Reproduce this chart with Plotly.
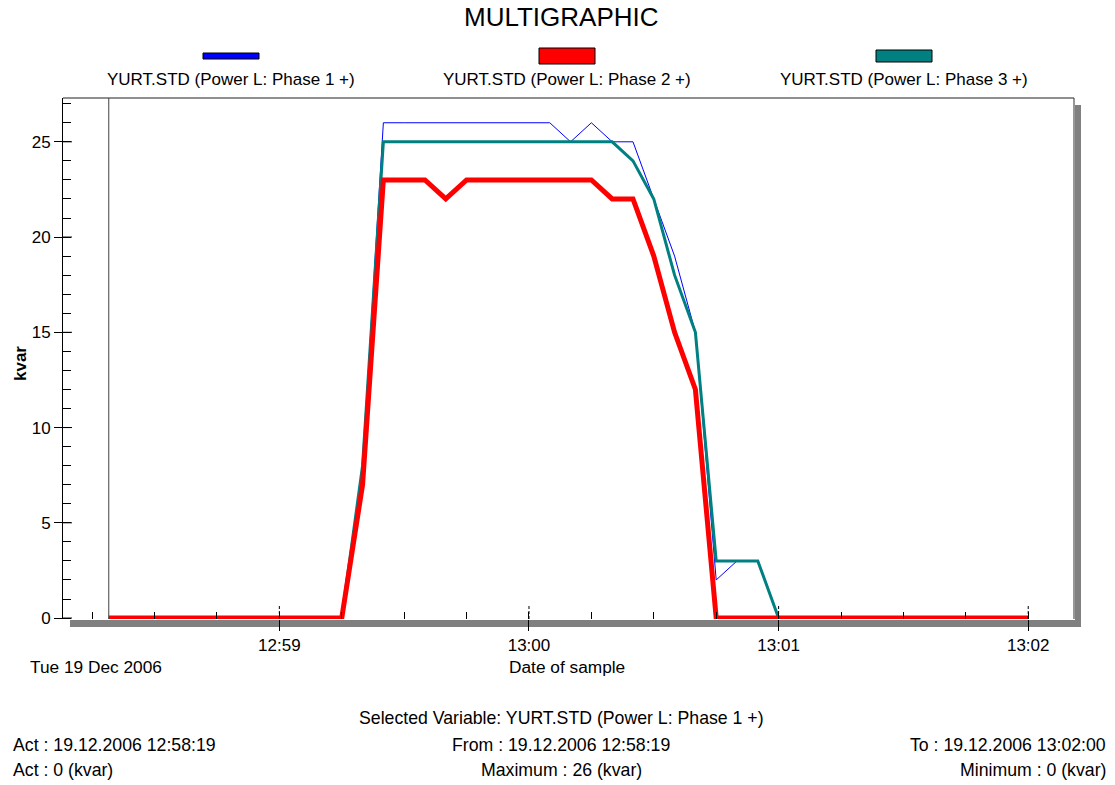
import pandas as pd
import plotly.graph_objects as go

# ---- data -------------------------------------------------------------
act_time = "2006-12-19 12:58:19"
to_time = "2006-12-19 13:02:00"
# first sample at the cursor time, then one sample every 5 s
sample_times = [pd.Timestamp(act_time)] + list(
    pd.date_range("2006-12-19 12:58:20", to_time, freq="5s"))

phase1 = [0, 0, 0, 0, 0, 0, 0, 0, 0, 0, 0, 0, 0, 8,
          26, 26, 26, 26, 26, 26, 26, 26, 26, 25, 26, 25, 25,
          22, 19, 15, 2, 3, 3, 0,
          0, 0, 0, 0, 0, 0, 0, 0, 0, 0, 0, 0]
phase2 = [0, 0, 0, 0, 0, 0, 0, 0, 0, 0, 0, 0, 0, 7,
          23, 23, 23, 22, 23, 23, 23, 23, 23, 23, 23, 22, 22,
          19, 15, 12, 0, 0, 0, 0,
          0, 0, 0, 0, 0, 0, 0, 0, 0, 0, 0, 0]
phase3 = [0, 0, 0, 0, 0, 0, 0, 0, 0, 0, 0, 0, 0, 8,
          25, 25, 25, 25, 25, 25, 25, 25, 25, 25, 25, 25, 24,
          22, 18, 15, 3, 3, 3, 0,
          0, 0, 0, 0, 0, 0, 0, 0, 0, 0, 0, 0]

series_names = ["YURT.STD (Power L: Phase 1 +)",
                "YURT.STD (Power L: Phase 2 +)",
                "YURT.STD (Power L: Phase 3 +)"]
series_colors = ["#0000FF", "#FF0000", "#008080"]
series_widths = [1, 5, 3]
swatch_heights = [6, 16, 12]

minute_ticks = ["2006-12-19 12:59:00", "2006-12-19 13:00:00",
                "2006-12-19 13:01:00", "2006-12-19 13:02:00"]
minute_labels = ["12:59", "13:00", "13:01", "13:02"]
kvar_ticks = [0, 5, 10, 15, 20, 25]

# ---- page geometry (pixels) -------------------------------------------
W, H = 1115, 785
L, R, T, B = 63, 1074, 98, 619
PW, PH = R - L, B - T
FONT = "Liberation Sans, Arial, sans-serif"


def px_x(x):
    return (x - L) / PW


def px_y(y):
    return (B - y) / PH


fig = go.Figure()

# draw order: phase 1, phase 3, phase 2 on top
for i in (0, 2, 1):
    fig.add_trace(go.Scatter(
        x=sample_times, y=[phase1, phase2, phase3][i],
        mode="lines", name=series_names[i],
        line=dict(color=series_colors[i], width=series_widths[i]),
        showlegend=False, hoverinfo="x+y"))

shapes = []
annotations = []

# drop shadow of the plotting frame
shapes.append(dict(type="rect", xref="paper", yref="paper", layer="below",
                   x0=px_x(70), x1=px_x(1081), y0=px_y(627), y1=px_y(620),
                   fillcolor="#808080", line=dict(width=0)))
shapes.append(dict(type="rect", xref="paper", yref="paper", layer="below",
                   x0=px_x(1075), x1=px_x(1081), y0=px_y(627), y1=px_y(105),
                   fillcolor="#808080", line=dict(width=0)))
# top and right frame lines
shapes.append(dict(type="line", xref="paper", yref="paper",
                   x0=0, x1=1, y0=1, y1=1, line=dict(color="#202020", width=1)))
shapes.append(dict(type="line", xref="paper", yref="paper",
                   x0=1, x1=1, y0=0, y1=1, line=dict(color="#303030", width=1)))
# cursor at the "Act" time
shapes.append(dict(type="line", xref="x", yref="paper",
                   x0=act_time, x1=act_time, y0=0, y1=1,
                   line=dict(color="#404040", width=1)))
# dashed upper part of the minute ticks
for t in minute_ticks:
    shapes.append(dict(type="line", xref="x", yref="paper",
                       x0=t, x1=t, y0=0, y1=px_y(604),
                       line=dict(color="black", width=1, dash="3px,2px")))
# major kvar ticks also reach into the plot
for v in kvar_ticks:
    shapes.append(dict(type="line", xref="paper", yref="y",
                       x0=0, x1=px_x(72), y0=v, y1=v,
                       line=dict(color="black", width=1)))

# legend: coloured bar above each series name
legend_cx = [231, 567, 904]
for cx, name, col, h in zip(legend_cx, series_names, series_colors, swatch_heights):
    shapes.append(dict(type="rect", xref="paper", yref="paper",
                       x0=px_x(cx - 28), x1=px_x(cx + 28),
                       y0=px_y(56 + h / 2), y1=px_y(56 - h / 2),
                       fillcolor=col, line=dict(color="black", width=1)))
    annotations.append(dict(xref="paper", yref="paper", x=px_x(cx), y=px_y(80),
                            xanchor="center", yanchor="middle", showarrow=False,
                            text=name, font=dict(size=17, color="black", family=FONT)))

# title
annotations.append(dict(xref="paper", yref="paper", x=px_x(561), y=px_y(17),
                        xanchor="center", yanchor="middle", showarrow=False,
                        text="MULTIGRAPHIC",
                        font=dict(size=26, color="black", family=FONT)))
# y axis title
annotations.append(dict(xref="paper", yref="paper", x=px_x(20), y=px_y(364),
                        xanchor="center", yanchor="middle", showarrow=False,
                        textangle=-90, text="<b>kvar</b>",
                        font=dict(size=17, color="black", family=FONT)))


def note(text, x, y, anchor, size=17.7):
    annotations.append(dict(xref="paper", yref="paper", x=px_x(x), y=px_y(y),
                            xanchor=anchor, yanchor="middle", showarrow=False,
                            text=text,
                            font=dict(size=size, color="black", family=FONT)))


act_stamp = pd.Timestamp(act_time)
to_stamp = pd.Timestamp(to_time)
act_value = phase1[sample_times.index(act_stamp)]

note(act_stamp.strftime("%a %d %b %Y"), 28, 667, "left", 17.3)
note("Date of sample", 567, 667, "center", 17.3)
note("Selected Variable: " + series_names[0], 561, 718, "center")
note("Act : " + act_stamp.strftime("%d.%m.%Y %H:%M:%S"), 11, 745, "left")
note("From : " + act_stamp.strftime("%d.%m.%Y %H:%M:%S"), 561, 745, "center")
note("To : " + to_stamp.strftime("%d.%m.%Y %H:%M:%S"), 1108, 745, "right")
note("Act : %d (kvar)" % act_value, 11, 770, "left")
note("Maximum : %d (kvar)" % max(phase1), 561, 770, "center")
note("Minimum : %d (kvar)" % min(phase1), 1108, 770, "right")

fig.update_layout(
    width=W, height=H,
    margin=dict(l=L, r=W - R, t=T, b=H - B, pad=0),
    paper_bgcolor="white", plot_bgcolor="white",
    font=dict(family=FONT, size=17, color="black"),
    shapes=shapes, annotations=annotations,
    showlegend=False,
)
fig.update_xaxes(
    type="date",
    range=["2006-12-19 12:58:08", "2006-12-19 13:02:11"],
    tickmode="array", tickvals=minute_ticks, ticktext=minute_labels,
    ticks="outside", ticklen=11, tickwidth=1, tickcolor="black",
    minor=dict(ticks="inside", ticklen=7, tickcolor="black",
               dtick=15000, tick0="2006-12-19 12:58:00"),
    showgrid=False, zeroline=False, showline=False,
    tickfont=dict(size=17, color="black", family=FONT),
)
fig.update_yaxes(
    range=[-0.05, 27.3],
    tickmode="array", tickvals=kvar_ticks,
    ticks="outside", ticklen=8, tickwidth=1, tickcolor="black",
    minor=dict(ticks="inside", ticklen=8, tickcolor="black", dtick=1, tick0=0),
    showgrid=False, zeroline=False,
    showline=True, linecolor="black", linewidth=1,
    tickfont=dict(size=17, color="black", family=FONT),
)

fig.write_html("out.html")
